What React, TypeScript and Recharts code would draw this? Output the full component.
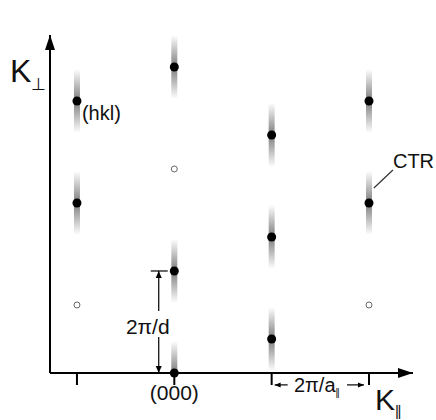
import React from 'react';
import { ScatterChart, Scatter, XAxis, YAxis, ReferenceLine, ReferenceDot } from 'recharts';

// K|| in units of 2π/a||, K⊥ in units of (2π/d)/3
const rodPositions = [-1, 0, 1, 2];
const braggK = [-1, -1, 0, 0, 0, 1, 1, 1, 2, 2];
const braggL = [5, 8, 0, 3, 9, 1, 4, 7, 5, 8];
const forbiddenK = [-1, 0, 2];
const forbiddenL = [2, 6, 2];

const kMin = -1.277;
const kMax = 2.452;
const lMax = 9.94;

const dimK = -0.16; // where the 2π/d bracket sits
const dimL = [0, 3];
const aSpan = [1, 2]; // 2π/a|| spans between these rods
const aLevel = -0.35;
const ctrLeader = [
  { k: 2.05, l: 5.44 },
  { k: 2.246, l: 5.97 },
];

const bragg = braggK.map((k, i) => ({ k, l: braggL[i] }));
const forbidden = forbiddenK.map((k, i) => ({ k, l: forbiddenL[i] }));

const FONT = 'Liberation Sans, Arial, sans-serif';
const INK = '#111';

const BraggShape = (props: any) => {
  const { cx, cy, payload } = props;
  const id = `rod-${Math.round(cx)}-${Math.round(cy)}`;
  const h = 32;
  const top = cy - h;
  const bottom = payload && payload.l === 0 ? cy : cy + h;
  return (
    <g>
      <defs>
        <linearGradient id={id} x1="0" y1={cy - h} x2="0" y2={cy + h} gradientUnits="userSpaceOnUse">
          <stop offset="0" stopColor="#666" stopOpacity={0} />
          <stop offset="0.5" stopColor="#666" stopOpacity={0.85} />
          <stop offset="1" stopColor="#666" stopOpacity={0} />
        </linearGradient>
      </defs>
      <rect x={cx - 3} y={top} width={6} height={bottom - top} fill={`url(#${id})`} />
      <circle cx={cx} cy={cy} r={4.5} fill="#000" />
    </g>
  );
};

const OpenShape = (props: any) => (
  <circle cx={props.cx} cy={props.cy} r={3} fill="#fff" stroke="#666" strokeWidth={1} />
);

const ArrowRight = (props: any) => {
  const { cx, cy } = props;
  return <polygon points={`${cx},${cy} ${cx - 15},${cy - 5} ${cx - 15},${cy + 5}`} fill="#000" />;
};

const ArrowUp = (props: any) => {
  const { cx, cy } = props;
  return <polygon points={`${cx},${cy} ${cx - 5},${cy + 15} ${cx + 5},${cy + 15}`} fill="#000" />;
};

const DimD = (props: any) => {
  const { x1, y1, y2 } = props;
  const top = Math.min(y1, y2);
  const bottom = Math.max(y1, y2);
  const mid = (top + bottom) / 2;
  return (
    <g>
      <line x1={x1 - 8} y1={top} x2={x1 + 9} y2={top} stroke="#000" strokeWidth={1.2} />
      <line x1={x1} y1={top} x2={x1} y2={mid - 11} stroke="#000" strokeWidth={1.2} />
      <line x1={x1} y1={mid + 15} x2={x1} y2={bottom} stroke="#000" strokeWidth={1.2} />
      <polygon points={`${x1},${top} ${x1 - 3},${top + 7} ${x1 + 3},${top + 7}`} fill="#000" />
      <polygon points={`${x1},${bottom} ${x1 - 3},${bottom - 7} ${x1 + 3},${bottom - 7}`} fill="#000" />
      <text x={x1 - 11} y={mid + 12} textAnchor="middle" fontSize={21} fontFamily={FONT} fill={INK}>
        2π/d
      </text>
    </g>
  );
};

const DimA = (props: any) => {
  const { x1, y1, x2 } = props;
  const left = Math.min(x1, x2);
  const right = Math.max(x1, x2);
  const mid = (left + right) / 2;
  return (
    <g>
      <line x1={left + 3} y1={y1} x2={left + 16} y2={y1} stroke="#000" strokeWidth={1.2} />
      <polygon points={`${left + 3},${y1} ${left + 9},${y1 - 2.5} ${left + 9},${y1 + 2.5}`} fill="#000" />
      <line x1={right - 22} y1={y1} x2={right - 5} y2={y1} stroke="#000" strokeWidth={1.2} />
      <polygon points={`${right - 5},${y1} ${right - 11},${y1 - 2.5} ${right - 11},${y1 + 2.5}`} fill="#000" />
      <text x={mid - 4} y={y1 + 7} textAnchor="middle" fontSize={20} fontFamily={FONT} fill={INK}>
        2π/a
        <tspan fontSize={10} dy={4} letterSpacing={-1}>||</tspan>
      </text>
    </g>
  );
};

const CtrShape = (props: any) => {
  const { x1, y1, x2, y2 } = props;
  return (
    <g>
      <line x1={x1} y1={y1} x2={x2} y2={y2} stroke="#333" strokeWidth={1.2} />
      <text x={x2} y={y2 - 2} fontSize={20} fontFamily={FONT} fill={INK}>
        CTR
      </text>
    </g>
  );
};

const HklLabel = (props: any) => (
  <text x={props.cx + 5} y={props.cy + 19} fontSize={20} fontFamily={FONT} fill={INK}>
    (hkl)
  </text>
);

const KparLabel = (props: any) => (
  <text x={props.cx - 38} y={props.cy + 37} fontSize={30} fontFamily={FONT} fill={INK}>
    K<tspan fontSize={15} dy={6} letterSpacing={-1.5}>||</tspan>
  </text>
);

const KperpLabel = (props: any) => (
  <text x={props.cx - 40} y={props.cy + 47} fontSize={32} fontFamily={FONT} fill={INK}>
    K<tspan fontSize={17} dy={8}>⊥</tspan>
  </text>
);

const OriginTick = (props: any) => {
  const { x, y, payload } = props;
  if (payload.value !== 0) return <g />;
  return (
    <text x={x} y={y + 13} textAnchor="middle" fontSize={21} fontFamily={FONT} fill={INK}>
      (000)
    </text>
  );
};

export default function App() {
  return (
    <div style={{ position: 'absolute', left: 0, top: 0, width: 436, height: 420, background: '#fff' }}>
      <ScatterChart width={436} height={420} margin={{ top: 35, right: 23, bottom: 17, left: 40 }}>
        <XAxis
          type="number"
          dataKey="k"
          domain={[kMin, kMax]}
          ticks={rodPositions}
          height={30}
          tickSize={12}
          tickMargin={2}
          axisLine={{ stroke: '#000', strokeWidth: 2 }}
          tickLine={{ stroke: '#000', strokeWidth: 2 }}
          tick={OriginTick}
        />
        <YAxis
          type="number"
          dataKey="l"
          domain={[0, lMax]}
          width={10}
          tick={false}
          tickLine={false}
          axisLine={{ stroke: '#000', strokeWidth: 2 }}
        />
        <Scatter data={forbidden} shape={OpenShape} isAnimationActive={false} />
        <Scatter data={bragg} shape={BraggShape} isAnimationActive={false} />
        <Scatter data={[{ k: kMax, l: 0 }]} shape={ArrowRight} isAnimationActive={false} />
        <Scatter data={[{ k: kMin, l: lMax }]} shape={ArrowUp} isAnimationActive={false} />
        <ReferenceLine
          segment={[{ x: dimK, y: dimL[0] }, { x: dimK, y: dimL[1] }]}
          shape={DimD}
          ifOverflow="visible"
        />
        <ReferenceLine
          segment={[{ x: aSpan[0], y: aLevel }, { x: aSpan[1], y: aLevel }]}
          shape={DimA}
          ifOverflow="visible"
        />
        <ReferenceLine
          segment={[{ x: ctrLeader[0].k, y: ctrLeader[0].l }, { x: ctrLeader[1].k, y: ctrLeader[1].l }]}
          shape={CtrShape}
          ifOverflow="visible"
        />
        <ReferenceDot x={-1} y={8} r={0} shape={HklLabel} ifOverflow="visible" />
        <ReferenceDot x={kMax} y={0} r={0} shape={KparLabel} ifOverflow="visible" />
        <ReferenceDot x={kMin} y={lMax} r={0} shape={KperpLabel} ifOverflow="visible" />
      </ScatterChart>
    </div>
  );
}
